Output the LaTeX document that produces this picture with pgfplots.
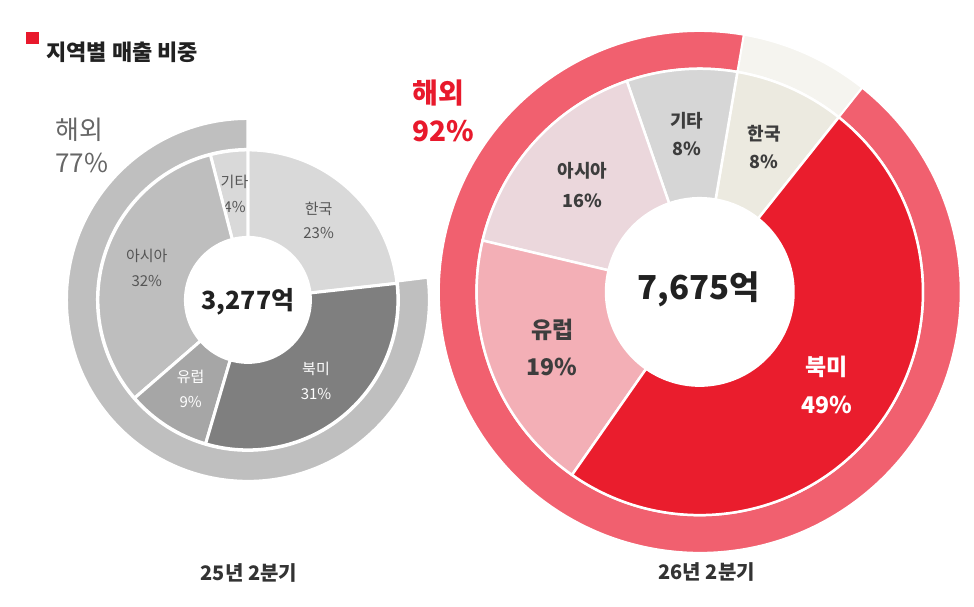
\documentclass[border=0pt]{standalone}
\usepackage{fontspec}
\setmainfont{Noto Sans CJK KR}
\usepackage{pgfplots}
\usepackage{pgfplotstable}
\pgfplotsset{compat=1.18}

% left (25Q2) greys
\definecolor{lkr}{HTML}{D9D9D9}
\definecolor{letc}{HTML}{D9D9D9}
\definecolor{lasia}{HTML}{BEBEBE}
\definecolor{leu}{HTML}{A6A6A6}
\definecolor{lna}{HTML}{7F7F7F}
\definecolor{lring}{HTML}{BFBFBF}
\definecolor{ltxt}{HTML}{555555}
% right (26Q2) reds
\definecolor{rkr}{HTML}{ECEAE0}
\definecolor{retc}{HTML}{D6D6D6}
\definecolor{rasia}{HTML}{EBD7DC}
\definecolor{reu}{HTML}{F3AFB6}
\definecolor{rna}{HTML}{EA1D2D}
\definecolor{rring}{HTML}{F1606F}
\definecolor{rringkr}{HTML}{F5F4EF}
\definecolor{rtxt}{HTML}{3D3D3D}
\definecolor{hred}{HTML}{E8192C}

% region shares, counter-clockwise from the first slice
\pgfplotstableread{
region share fillc textc fsize gap
한국 23 lkr ltxt 15 25
기타 4 letc ltxt 15 25
아시아 32 lasia ltxt 15 25
유럽 9 leu white 15 25
북미 31 lna white 15 25
}\leftpie
\pgfplotstableread{
region share fillc
한국 23 white
해외 77 lring
}\leftring
\pgfplotstableread{
region share fillc textc fsize gap
한국 8 rkr rtxt 18 28
기타 8 retc rtxt 18 28
아시아 16 rasia rtxt 18 30
유럽 19 reu rtxt 23 37
북미 49 rna white 23 38
}\rightpie
\pgfplotstableread{
region share fillc
한국 8 rringkr
해외 92 rring
}\rightring

% #1 table, #2 cx, #3 cy, #4 start angle, #5 inner r, #6 outer r,
% #7 label radius (0 = no labels), #8 border width, #9 label weight
\newcommand\donut[9]{%
  \pgfplotstablegetrowsof{#1}%
  \pgfmathtruncatemacro\nlast{\pgfplotsretval-1}%
  \xdef\dsum{0}%
  \foreach \i in {0,...,\nlast}{%
    \pgfplotstablegetelem{\i}{share}\of{#1}%
    \pgfmathsetmacro\tmpsum{\dsum+\pgfplotsretval}\xdef\dsum{\tmpsum}}%
  \xdef\dang{#4}%
  \foreach \i in {0,...,\nlast}{%
    \pgfplotstablegetelem{\i}{share}\of{#1}\let\val\pgfplotsretval
    \pgfplotstablegetelem{\i}{fillc}\of{#1}\let\fc\pgfplotsretval
    \pgfmathsetmacro\aone{\dang}%
    \pgfmathsetmacro\atwo{\dang+\val/\dsum*360}%
    \xdef\dang{\atwo}%
    \fill[fill=\fc, draw=white, line width=#8]
      ([shift={(\aone:#6pt)}]axis cs:#2,#3)
      arc[start angle=\aone, end angle=\atwo, radius=#6pt]
      -- ([shift={(\atwo:#5pt)}]axis cs:#2,#3)
      arc[start angle=\atwo, end angle=\aone, radius=#5pt] -- cycle;
    \ifdim #7pt>0pt
      \pgfplotstablegetelem{\i}{region}\of{#1}\let\nm\pgfplotsretval
      \pgfplotstablegetelem{\i}{textc}\of{#1}\let\tc\pgfplotsretval
      \pgfplotstablegetelem{\i}{fsize}\of{#1}\let\fs\pgfplotsretval
      \pgfplotstablegetelem{\i}{gap}\of{#1}\let\gp\pgfplotsretval
      \pgfmathsetmacro\amid{(\aone+\atwo)/2}%
      \pgfmathsetmacro\lx{#2+#7*cos(\amid)}%
      \pgfmathsetmacro\lya{#3+#7*sin(\amid)+\gp/2}%
      \pgfmathsetmacro\lyb{#3+#7*sin(\amid)-\gp/2}%
      \node[text=\tc, font={#9\fontsize{\fs}{\fs}\selectfont}] at (axis cs:\lx,\lya) {\nm};
      \node[text=\tc, font={#9\fontsize{\fs}{\fs}\selectfont}] at (axis cs:\lx,\lyb) {\val\%};
    \fi
  }%
}

\begin{document}
\begin{tikzpicture}
\begin{axis}[
  width=974pt, height=607pt, scale only axis,
  xmin=0, xmax=974, ymin=0, ymax=607,
  hide axis, clip=false,
]
\path (axis cs:0,0) rectangle (axis cs:974,607);
\pgfplotsextra{%
  \donut{\leftring}{248}{307}{7.2}{150.5}{181.5}{0}{3pt}{}
  \donut{\leftpie}{248}{307}{6.36}{62.5}{150}{106}{3pt}{\mdseries}
  \donut{\rightring}{700}{315}{51.5}{223.5}{261}{0}{2pt}{}
  \donut{\rightpie}{700}{315}{51.5}{93.75}{223.25}{158}{2.5pt}{\bfseries}
}
% title
\fill[color=hred] (axis cs:26,563) rectangle (axis cs:39,575);
\node[anchor=west, text=black!87, font=\bfseries\fontsize{22}{22}\selectfont] at (axis cs:43,555) {지역별 매출 비중};
% overseas share
\node[anchor=west, text=black!60, font=\fontsize{26}{26}\selectfont] at (axis cs:52,477) {해외};
\node[anchor=west, text=black!60, font=\fontsize{26}{26}\selectfont] at (axis cs:52,444) {77\%};
\node[anchor=west, text=hred, font=\bfseries\fontsize{28}{28}\selectfont] at (axis cs:409,514) {해외};
\node[anchor=west, text=hred, font=\bfseries\fontsize{28}{28}\selectfont] at (axis cs:409,476) {92\%};
% totals
\node[text=black!87, font=\bfseries\fontsize{25}{25}\selectfont] at (axis cs:248,305) {3,277억};
\node[text=black!87, font=\bfseries\fontsize{33}{33}\selectfont] at (axis cs:699,318) {7,675억};
% period labels
\node[text=black!80, font=\bfseries\fontsize{20}{20}\selectfont] at (axis cs:249,34) {25년 2분기};
\node[text=black!80, font=\bfseries\fontsize{20}{20}\selectfont] at (axis cs:707,35) {26년 2분기};
\end{axis}
\end{tikzpicture}
\end{document}
